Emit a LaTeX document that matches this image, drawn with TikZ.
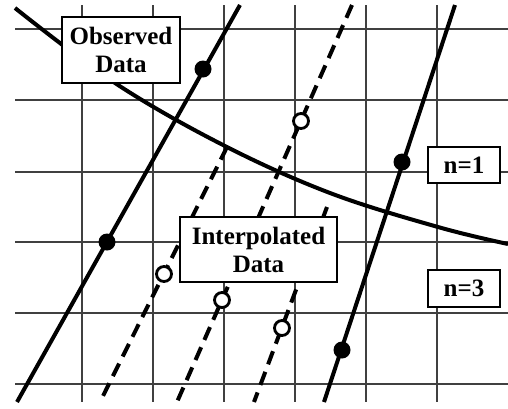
\documentclass[tikz,border=0pt]{standalone}
\usepackage{fontspec}
\setmainfont{Liberation Serif}
\begin{document}
\begin{tikzpicture}[x=1pt,y=-1pt,
  gridline/.style={draw=black!75, line width=1.3pt},
  solidline/.style={line width=4pt},
  dashline/.style={line width=4pt, dash pattern=on 14pt off 8pt},
  obsdot/.style={circle, fill=black, inner sep=0pt, minimum size=17pt},
  interpdot/.style={circle, draw=black, fill=white, line width=2.8pt, inner sep=0pt, minimum size=15pt},
  labelbox/.style={draw, fill=white, line width=2pt, font=\bfseries\fontsize{25}{28}\selectfont, align=center, inner sep=0pt}]
\useasboundingbox (0,0) rectangle (508,408);
% grid
\foreach \x in {82,153,224,295,366,437} \draw[gridline] (\x,5) -- (\x,402);
\foreach \y in {29,100,172,242,313,384} \draw[gridline] (15,\y) -- (508,\y);
% curve
\draw[solidline] plot[smooth, tension=0.6] coordinates {(15,8) (115,83) (223,145) (330,193) (438,227) (508,244)};
% endpoints
\coordinate (s1b) at (17,402); \coordinate (s1t) at (240,5);
\coordinate (s2b) at (324,402); \coordinate (s2t) at (455,5);
\coordinate (dAt) at (227,147); \coordinate (dAb) at (100,402);
\coordinate (dBt) at (352,5); \coordinate (dBb) at (177,402);
\coordinate (dCt) at (327,207); \coordinate (dCb) at (254,402);
% lines
\draw[solidline] (s1b) -- (s1t);
\draw[solidline] (s2b) -- (s2t);
\draw[dashline] (dAt) -- (dAb);
\draw[dashline] (dBt) -- (dBb);
\draw[dashline] (dCt) -- (dCb);
% data points
\node[obsdot] (o1) at (107,242) {};
\node[obsdot] (o2) at (203,69) {};
\node[obsdot] (o3) at (402,162) {};
\node[obsdot] (o4) at (342,350) {};
\node[interpdot] (i1) at (164,274) {};
\node[interpdot] (i2) at (222,300) {};
\node[interpdot] (i3) at (301,121) {};
\node[interpdot] (i4) at (282,328) {};
% labels
\node[labelbox, minimum width=118pt, minimum height=66pt] (obs) at (121,50) {Observed\\Data};
\node[labelbox, minimum width=157pt, minimum height=65pt] (int) at (258.5,249.5) {Interpolated\\Data};
\node[labelbox, minimum width=72pt, minimum height=36pt] (n1) at (464,165) {n=1};
\node[labelbox, minimum width=72pt, minimum height=37pt] (n3) at (464,288.5) {n=3};
\end{tikzpicture}
\end{document}
